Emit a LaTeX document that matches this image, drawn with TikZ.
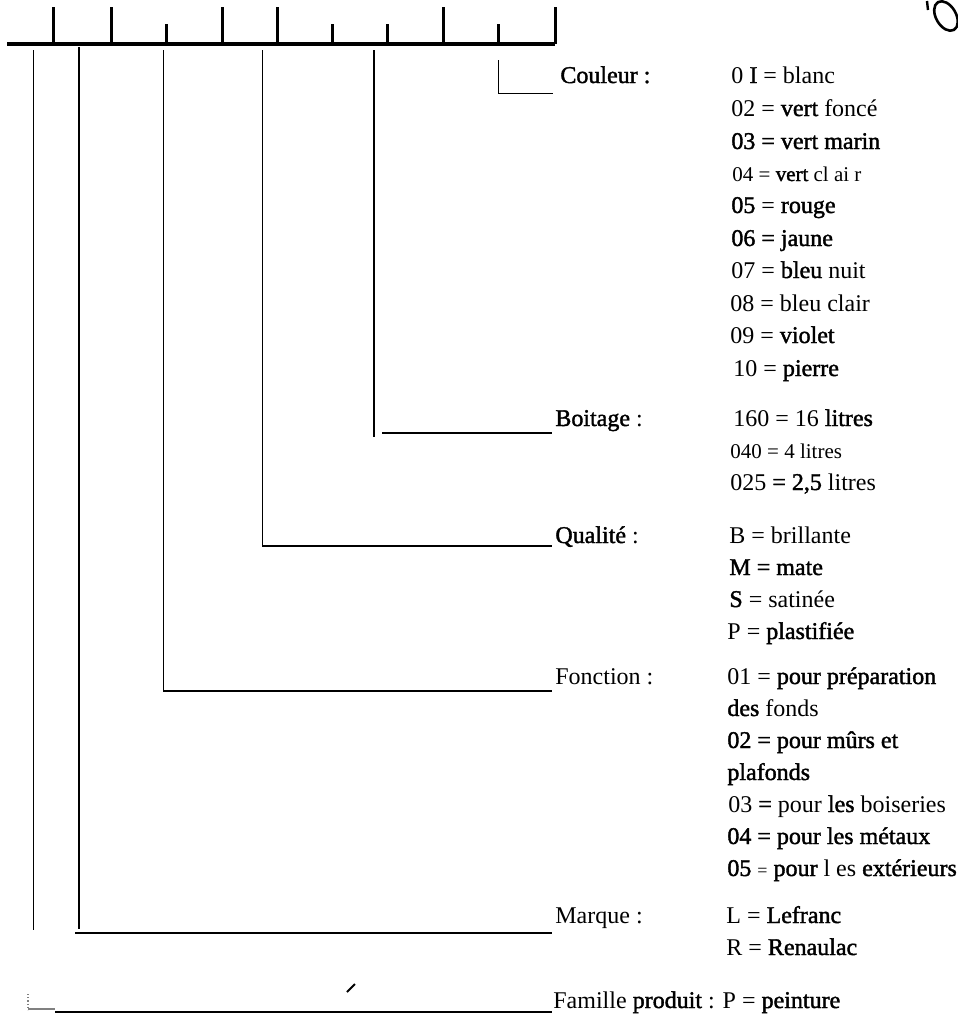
\documentclass[tikz,border=0pt]{standalone}
\usepackage{fontspec}
\setmainfont{Liberation Serif}
\newfontface\heavyface[FakeBold=1.6]{Liberation Serif}
\usepackage{tikz}
\usetikzlibrary{calc, positioning}
\tikzstyle{stem} = [draw, line width=0.5pt]
\tikzstyle{lead} = [draw, line width=1pt]
\newcommand{\bo}[1]{{\heavyface #1}}

\begin{document}
\begin{tikzpicture}
    [
        x=0.5pt, y=-0.5pt,
        label/.style={anchor=base west, inner sep=0pt, font=\fontsize{12}{14}\selectfont},
        val/.style={anchor=base west, inner sep=0pt, font=\fontsize{12}{14}\selectfont},
        sval/.style={anchor=base west, inner sep=0pt, font=\fontsize{10.5}{12}\selectfont},
        ruler/.style={draw, line width=2pt},
        tick/.style={draw, line width=1.5pt}
    ]
    \useasboundingbox (0,0) rectangle (958,1018);

    % the code ruler
    \coordinate (r_left) at (7,44);
    \coordinate (r_right) at (555,44);
    \draw[ruler] (r_left) -- (r_right);
    \draw[tick] (53,44) -- (53,7);
    \draw[tick] (111,44) -- (111,7);
    \draw[tick] (166,44) -- (166,24);
    \draw[tick] (222,44) -- (222,7);
    \draw[tick] (277,44) -- (277,7);
    \draw[tick] (332,44) -- (332,24);
    \draw[tick] (387,44) -- (387,24);
    \draw[tick] (443,44) -- (443,7);
    \draw[tick] (498,44) -- (498,24);
    \draw[tick] (r_right) -- ++(0,-37);

    % labels
    \node[label] (lbl_couleur) at (560,83) {\bo{Couleur :}};
    \node[label] (lbl_boitage) at (555,426) {\bo{Boitage} :};
    \node[label] (lbl_qualite) at (555,543) {\bo{Qualité} :};
    \node[label] (lbl_fonction) at (555,684) {Fonction :};
    \node[label] (lbl_marque) at (555,923) {Marque :};
    \node[label] (lbl_famille) at (553,1008) {Famille \bo{produit} : P = \bo{peinture}};

    % couleur
    \node[val] (col_01) at (731,83) {0 \bo{I} = blanc};
    \node[val] (col_02) at (731,116) {02 = \bo{vert} foncé};
    \node[val] (col_03) at (731,149) {\bo{03 = vert marin}};
    \node[sval] (col_04) at (732,181) {04 = \bo{vert} cl ai r};
    \node[val] (col_05) at (731,213) {\bo{05} = \bo{rouge}};
    \node[val] (col_06) at (731,246) {\bo{06 = jaune}};
    \node[val] (col_07) at (731,278) {07 = \bo{bleu} nuit};
    \node[val] (col_08) at (730,311) {08 = bleu clair};
    \node[val] (col_09) at (730,343) {09 = \bo{violet}};
    \node[val] (col_10) at (733,376) {10 = \bo{pierre}};

    % boitage
    \node[val] (boi_160) at (733,426) {160 = 16 \bo{litres}};
    \node[sval] (boi_040) at (730,458) {040 = 4 litres};
    \node[val] (boi_025) at (730,490) {025 \bo{= 2,5} litres};

    % qualite
    \node[val] (qua_b) at (729,543) {B = brillante};
    \node[val] (qua_m) at (729,575) {\bo{M = mate}};
    \node[val] (qua_s) at (729,607) {\bo{S} = satinée};
    \node[val] (qua_p) at (727,639) {P = \bo{plastifiée}};

    % fonction
    \node[val] (fon_01) at (727,684) {01 = \bo{pour préparation}};
    \node[val] (fon_01b) at (727,716) {\bo{des} fonds};
    \node[val] (fon_02) at (727,748) {\bo{02 = pour mûrs et}};
    \node[val] (fon_02b) at (727,780) {\bo{plafonds}};
    \node[val] (fon_03) at (728,812) {03 \bo{=} pour \bo{les} boiseries};
    \node[val] (fon_04) at (727,844) {\bo{04 = pour les métaux}};
    \node[val] (fon_05) at (727,876) {\bo{05} {\small=} \bo{pour} l es \bo{extérieurs}};

    % marque
    \node[val] (mar_l) at (726,923) {L = \bo{Lefranc}};
    \node[val] (mar_r) at (726,955) {R = \bo{Renaulac}};

    % leaders from the ruler
    \coordinate (d_couleur) at (498,60);
    \draw[stem] (d_couleur) |- ($(lbl_couleur.base west)+(-7,10)$);

    \coordinate (d_boitage) at (374,50);
    \draw[lead] (d_boitage) -- ($(d_boitage)+(0,387)$);
    \draw[lead] ($(lbl_boitage.base west)+(-173,7)$) -- ($(lbl_boitage.base west)+(-3,7)$);

    \coordinate (d_qualite) at (262,50);
    \draw[stem] (d_qualite) -- ($(d_qualite |- lbl_qualite.base)+(0,3)$);
    \draw[lead] ($(d_qualite |- lbl_qualite.base)+(0,3)$) -- ($(lbl_qualite.base west)+(-3,3)$);

    \coordinate (d_fonction) at (163,50);
    \draw[stem] (d_fonction) -- ($(d_fonction |- lbl_fonction.base)+(0,7)$);
    \draw[lead] ($(d_fonction |- lbl_fonction.base)+(0,7)$) -- ($(lbl_fonction.base west)+(-3,7)$);

    \coordinate (d_marque) at (79,47);
    \draw[lead] (d_marque) -- ($(d_marque |- lbl_marque.base)+(0,6)$);
    \draw[lead] ($(lbl_marque.base west)+(-480,10)$) -- ($(lbl_marque.base west)+(-3,10)$);

    \coordinate (d_famille) at (33,50);
    \draw[stem] (d_famille) -- ($(d_famille |- lbl_marque.base)+(0,7)$);

    % famille produit, bottom line
    \draw[gray, densely dotted, line width=0.6pt] (28,994) -- (28,1010);
    \draw[gray, line width=0.8pt] (28,1009) -- (55,1009);
    \draw[lead] (55,1012) -- ($(lbl_famille.base west)+(-1,4)$);
    \draw[line width=1pt] (347,992) -- (355,984);

    % handwritten mark
    \draw[line width=1.2pt] (927,1) -- (928,10);
    \draw[line width=1.3pt, rotate around={30:(946,16)}] (946,16) ellipse (10 and 16);
\end{tikzpicture}
\end{document}
